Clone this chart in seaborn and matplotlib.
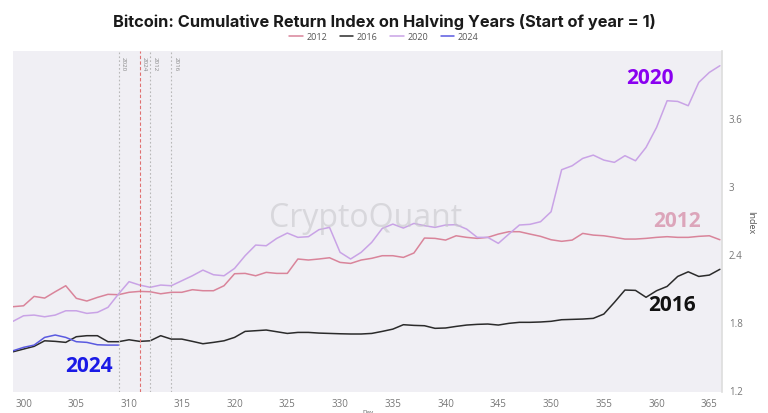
import numpy as np
import pandas as pd
import matplotlib
matplotlib.use("Agg")
import matplotlib.pyplot as plt
import seaborn as sns

days = list(range(299, 367))

y2012 = [1.933, 1.941, 2.024, 2.009, 2.065, 2.118, 2.007, 1.983, 2.015, 2.042,
         2.039, 2.060, 2.068, 2.065, 2.047, 2.060, 2.060, 2.083, 2.074, 2.074,
         2.118, 2.224, 2.227, 2.206, 2.236, 2.227, 2.227, 2.354, 2.345, 2.354,
         2.365, 2.324, 2.315, 2.345, 2.360, 2.383, 2.383, 2.368, 2.407, 2.539,
         2.536, 2.521, 2.559, 2.545, 2.536, 2.545, 2.574, 2.595, 2.595, 2.574,
         2.554, 2.524, 2.510, 2.521, 2.580, 2.565, 2.559, 2.545, 2.530, 2.530,
         2.536, 2.545, 2.551, 2.545, 2.545, 2.554, 2.559, 2.524]

y2016 = [1.535, 1.559, 1.583, 1.632, 1.627, 1.618, 1.668, 1.677, 1.677, 1.624,
         1.624, 1.641, 1.627, 1.632, 1.677, 1.647, 1.647, 1.627, 1.606, 1.618,
         1.632, 1.662, 1.715, 1.721, 1.727, 1.712, 1.697, 1.706, 1.706, 1.700,
         1.697, 1.694, 1.692, 1.692, 1.697, 1.715, 1.735, 1.774, 1.768, 1.765,
         1.742, 1.745, 1.759, 1.771, 1.777, 1.780, 1.771, 1.786, 1.795, 1.795,
         1.798, 1.804, 1.818, 1.821, 1.824, 1.830, 1.868, 1.971, 2.080, 2.077,
         2.016, 2.074, 2.112, 2.200, 2.241, 2.200, 2.212, 2.263]

y2020 = [1.804, 1.853, 1.859, 1.844, 1.859, 1.897, 1.897, 1.874, 1.883, 1.927,
         2.045, 2.154, 2.124, 2.104, 2.124, 2.118, 2.162, 2.206, 2.256, 2.215,
         2.206, 2.271, 2.383, 2.477, 2.471, 2.536, 2.583, 2.545, 2.551, 2.613,
         2.633, 2.413, 2.354, 2.413, 2.501, 2.624, 2.662, 2.627, 2.668, 2.648,
         2.633, 2.654, 2.657, 2.618, 2.545, 2.545, 2.492, 2.574, 2.654, 2.660,
         2.683, 2.771, 3.142, 3.177, 3.242, 3.271, 3.227, 3.207, 3.266, 3.221,
         3.339, 3.516, 3.751, 3.745, 3.707, 3.913, 4.001, 4.060]

y2024 = [1.544, 1.574, 1.594, 1.662, 1.683, 1.662, 1.624, 1.618, 1.597, 1.594,
         1.594] + [np.nan] * 57

years = ["2012", "2016", "2020", "2024"]
line_colors = ["#d9849a", "#2b2b2b", "#c9a3e6", "#5a5ae0"]

marker_years = ["2020", "2024", "2012", "2016"]
marker_days = [309, 311, 312, 314]

y_ticks = [1.2, 1.8, 2.4, 3.0, 3.6]
y_tick_labels = ["1.2", "1.8", "2.4", "3", "3.6"]
x_ticks = list(range(300, 366, 5))

frames = []
for yr, vals in zip(years, [y2012, y2016, y2020, y2024]):
    frames.append(pd.DataFrame({"Day": days, "Index": vals, "Year": yr}))
df = pd.concat(frames, ignore_index=True).dropna()

sns.set_theme(style="white")
plt.rcParams["font.family"] = ["Open Sans", "DejaVu Sans"]

fig = plt.figure(figsize=(7.68, 4.14), dpi=100)
ax = fig.add_axes([13 / 768, 1 - 393 / 414, (722 - 13) / 768, (393 - 52) / 414])
ax.set_facecolor("#f0eff4")

sns.lineplot(data=df, x="Day", y="Index", hue="Year", palette=dict(zip(years, line_colors)),
             linewidth=1.1, ax=ax, legend=True)

ax.set_xlim(299, 366.2)
ax.set_ylim(1.18, 4.19)

# vertical markers
for yr, d in zip(marker_years, marker_days):
    if yr == "2024":
        ax.axvline(d, color="#e07070", lw=0.8, ls=(0, (3, 2)))
    else:
        ax.axvline(d, color="#b8b8b8", lw=0.8, ls=(0, (1.5, 2)))
    ax.text(d + 0.2, 4.15, yr, rotation=270, fontsize=4.5, color="#888888",
            ha="left", va="top")

# watermark
ax.text(332.4, 2.724, "CryptoQuant", fontsize=23, color="#c8c8cc", alpha=0.6,
        ha="center", va="center", family=["Open Sans", "DejaVu Sans"])

# annotations
ax.text(359.4, 3.96, "2020", fontsize=15, fontweight="bold", color="#8a00f0",
        ha="center", va="center")
ax.text(361.95, 2.69, "2012", fontsize=15, fontweight="bold", color="#dca5ba",
        ha="center", va="center")
ax.text(361.5, 1.956, "2016", fontsize=15, fontweight="bold", color="#111111",
        ha="center", va="center")
ax.text(306.2, 1.418, "2024", fontsize=15, fontweight="bold", color="#1a1ae6",
        ha="center", va="center")

# axes styling
ax.yaxis.tick_right()
ax.yaxis.set_label_position("right")
ax.set_yticks(y_ticks)
ax.set_yticklabels(y_tick_labels)
ax.set_xticks(x_ticks)
ax.tick_params(axis="both", length=0, labelsize=7, colors="#777777")
ax.tick_params(axis="y", pad=5)
ax.tick_params(axis="x", pad=4.5)
ax.set_ylabel("Index", fontsize=6.5, color="#555555", rotation=270, labelpad=9)
ax.set_xlabel("Day", fontsize=4.5, color="#555555", labelpad=0)
for s in ["top", "left", "bottom"]:
    ax.spines[s].set_visible(False)
ax.spines["right"].set_color("#dddddd")
ax.spines["right"].set_linewidth(1.2)
ax.grid(False)

handles, labels = ax.get_legend_handles_labels()
ax.get_legend().remove()
fig.legend(handles, labels, loc="center", bbox_to_anchor=(0.5, 0.91), ncol=4,
           frameon=False, fontsize=6.5, handlelength=1.5, columnspacing=1.4,
           handletextpad=0.4, labelcolor="#555555")

fig.suptitle("Bitcoin: Cumulative Return Index on Halving Years (Start of year = 1)",
             x=0.5, y=0.965, fontsize=11.8, fontweight="bold", color="#1a1a1a",
             family=["Inter", "DejaVu Sans"])

fig.savefig("out.png", dpi=100, facecolor="white")
